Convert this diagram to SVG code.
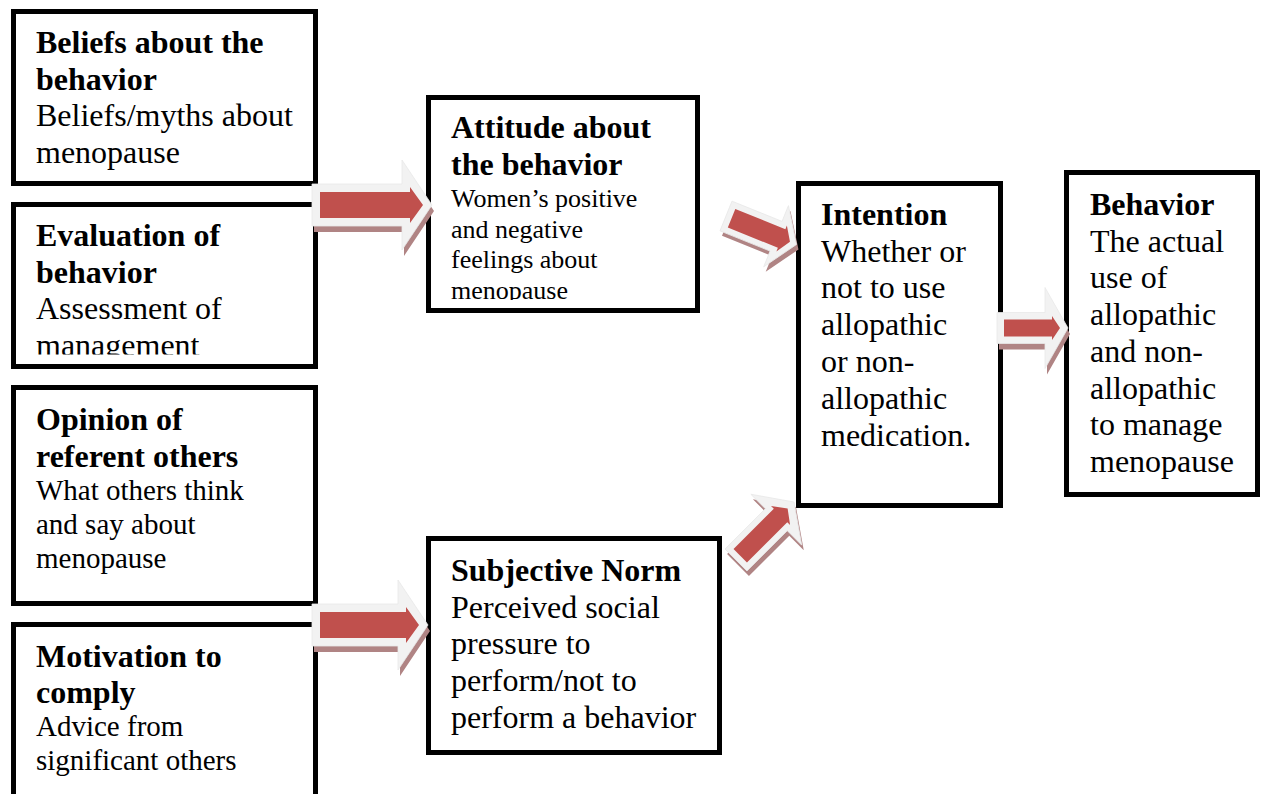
<svg xmlns="http://www.w3.org/2000/svg" width="1265" height="794" viewBox="0 0 1265 794">
<style>
.box{fill:#fff;stroke:#000;stroke-width:5}
text{font-family:"Liberation Serif","Times New Roman",serif;fill:#000}
.b{font-weight:bold;font-size:32px}
.r{font-size:32px}
.r29{font-size:29px}
.r26{font-size:26px}
.ag{fill:#f2f2f2;stroke:#e8e8e8;stroke-width:0.8}
.ar{fill:#c0504d}
.as{fill:#b08484}
</style>
<defs>
<clipPath id="clip2"><rect x="16" y="207" width="297" height="147.5"/></clipPath>
<clipPath id="clipA"><rect x="431" y="100" width="264" height="200"/></clipPath>
<path id="g1" d="M0,-21 H90 V-45 L120,0 L90,45 V21 H0 Z"/>
<path id="r1" d="M8,-13 H98 V-18 L111,0 L98,18 V13 H8 Z"/>
<path id="g5" d="M0,-21 H86 V-45 L116,0 L86,45 V21 H0 Z"/>
<path id="r5" d="M8,-13 H94 V-18 L107,0 L94,18 V13 H8 Z"/>
<path id="g4" d="M0,-15.5 H48 V-40.5 L71,0 L48,40.5 V15.5 H0 Z"/>
<path id="r4" d="M7,-8.5 H55 V-12 L63,0 L55,12 V8.5 H7 Z"/>
<path id="g2" d="M0,-16 H54 V-33 L76,0 L54,33 V16 H0 Z"/>
<path id="r2" d="M6,-10 H60 V-14 L69,0 L60,14 V10 H6 Z"/>
<path id="g3" d="M0,-15.5 H57 V-36 L82,0 L57,36 V15.5 H0 Z"/>
<path id="r3" d="M6,-9.5 H63 V-13.5 L73,0 L63,13.5 V9.5 H6 Z"/>
</defs>
<rect width="1265" height="794" fill="#fff"/>

<g id="beliefs">
<rect class="box" x="13.5" y="11.5" width="302" height="172"/>
<text class="b" x="36" y="53">Beliefs about the</text>
<text class="b" x="36" y="90">behavior</text>
<text class="r" x="36" y="126">Beliefs/myths about</text>
<text class="r" x="36" y="163">menopause</text>
</g>

<g id="evaluation">
<rect class="box" x="13.5" y="204.5" width="302" height="162"/>
<g clip-path="url(#clip2)">
<text class="b" x="36" y="246">Evaluation of</text>
<text class="b" x="36" y="283">behavior</text>
<text class="r" x="36" y="319">Assessment of</text>
<text class="r" x="36" y="356">management</text>
</g>
</g>

<g id="opinion">
<rect class="box" x="13.5" y="387.5" width="302" height="216"/>
<text class="b" x="36" y="430">Opinion of</text>
<text class="b" x="36" y="467">referent others</text>
<text class="r29" x="36" y="500">What others think</text>
<text class="r29" x="36" y="534">and say about</text>
<text class="r29" x="36" y="568">menopause</text>
</g>

<g id="motivation">
<rect class="box" x="13.5" y="624.5" width="302" height="200"/>
<text class="b" x="36" y="667">Motivation to</text>
<text class="b" x="36" y="703">comply</text>
<text class="r29" x="36" y="736">Advice from</text>
<text class="r29" x="36" y="770">significant others</text>
</g>

<g id="attitude">
<rect class="box" x="428.5" y="97.5" width="269" height="213"/>
<g clip-path="url(#clipA)">
<text class="b" x="451" y="138">Attitude about</text>
<text class="b" x="451" y="175">the behavior</text>
<text class="r26" x="451" y="207">Women’s positive</text>
<text class="r26" x="451" y="238">and negative</text>
<text class="r26" x="451" y="268">feelings about</text>
<text class="r26" x="451" y="299">menopause</text>
</g>
</g>

<g id="subjective-norm">
<rect class="box" x="428.5" y="538.5" width="291" height="214"/>
<text class="b" x="451" y="581">Subjective Norm</text>
<text class="r" x="451" y="618">Perceived social</text>
<text class="r" x="451" y="654">pressure to</text>
<text class="r" x="451" y="691">perform/not to</text>
<text class="r" x="451" y="728">perform a behavior</text>
</g>

<g id="intention">
<rect class="box" x="798.5" y="183.5" width="202" height="322"/>
<text class="b" x="821" y="225">Intention</text>
<text class="r" x="821" y="262">Whether or</text>
<text class="r" x="821" y="298">not to use</text>
<text class="r" x="821" y="335">allopathic</text>
<text class="r" x="821" y="372">or non-</text>
<text class="r" x="821" y="409">allopathic</text>
<text class="r" x="821" y="446">medication.</text>
</g>

<g id="behavior">
<rect class="box" x="1066.5" y="172.5" width="191" height="322"/>
<text class="b" x="1090" y="215">Behavior</text>
<text class="r" x="1090" y="252">The actual</text>
<text class="r" x="1090" y="288">use of</text>
<text class="r" x="1090" y="325">allopathic</text>
<text class="r" x="1090" y="362">and non-</text>
<text class="r" x="1090" y="399">allopathic</text>
<text class="r" x="1090" y="435">to manage</text>
<text class="r" x="1090" y="472">menopause</text>
</g>

<g id="connectors">
<g id="arrow-beliefs-attitude">
<use href="#g1" class="as" transform="translate(314,211)"/>
<use href="#g1" class="ag" transform="translate(312,205)"/>
<use href="#r1" class="ar" transform="translate(312,205)"/>
</g>
<g id="arrow-opinion-norm">
<use href="#g5" class="as" transform="translate(314,631)"/>
<use href="#g5" class="ag" transform="translate(312,625)"/>
<use href="#r5" class="ar" transform="translate(312,625)"/>
</g>
<g id="arrow-attitude-intention">
<use href="#g2" class="as" transform="translate(728,221) rotate(22)"/>
<use href="#g2" class="ag" transform="translate(726,216) rotate(22)"/>
<use href="#r2" class="ar" transform="translate(726,216) rotate(22)"/>
</g>
<g id="arrow-norm-intention">
<use href="#g3" class="as" transform="translate(738,565) rotate(-45)"/>
<use href="#g3" class="ag" transform="translate(736,560) rotate(-45)"/>
<use href="#r3" class="ar" transform="translate(736,560) rotate(-45)"/>
</g>
<g id="arrow-intention-behavior">
<use href="#g4" class="as" transform="translate(999,334)"/>
<use href="#g4" class="ag" transform="translate(997,328)"/>
<use href="#r4" class="ar" transform="translate(997,328)"/>
</g>
</g>
</svg>
